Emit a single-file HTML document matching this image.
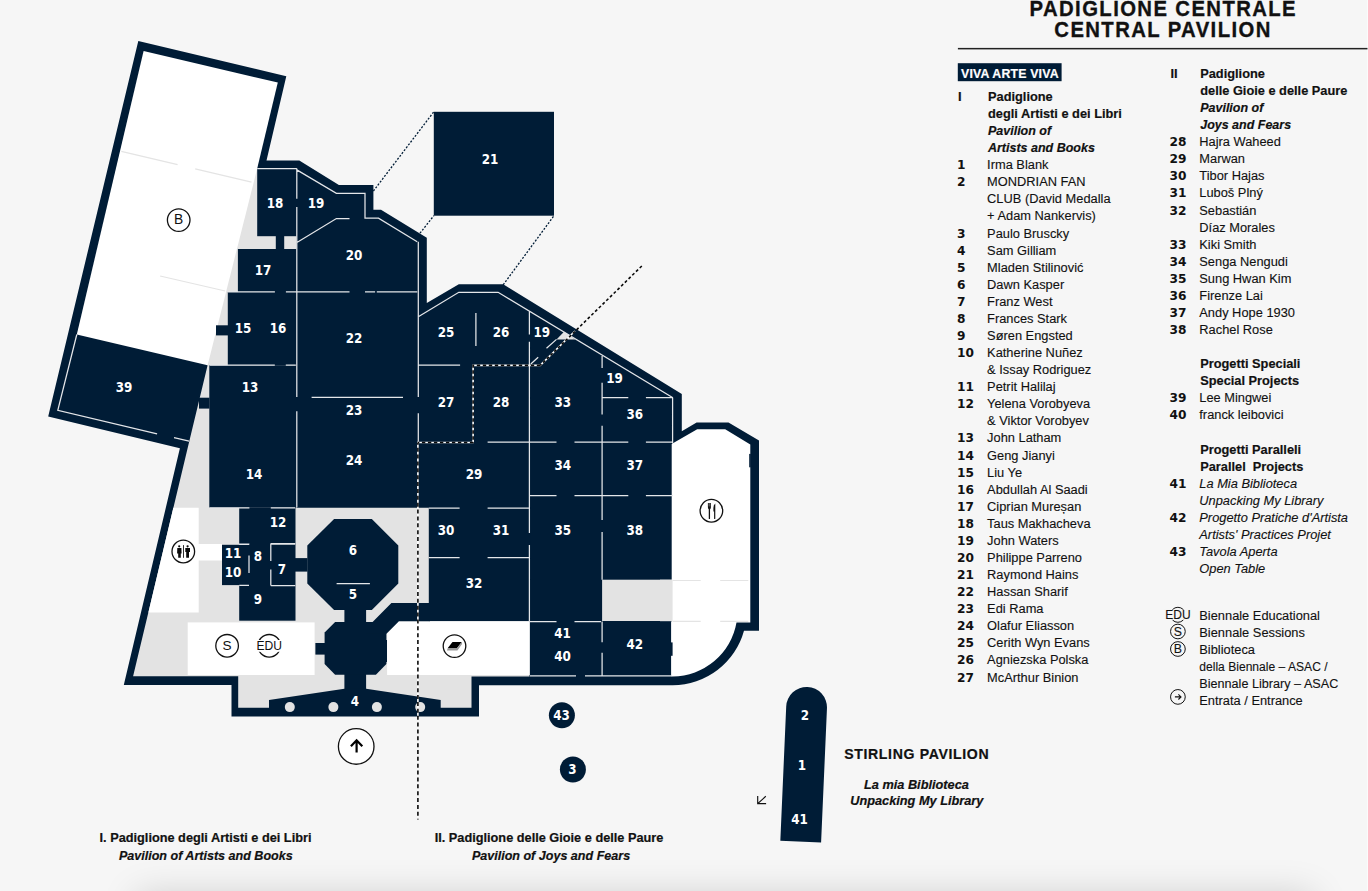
<!DOCTYPE html>
<html lang="it">
<head>
<meta charset="utf-8">
<title>Padiglione Centrale / Central Pavilion</title>
<style>
html,body{margin:0;padding:0;background:#f6f6f6;}
body{width:1368px;height:891px;overflow:hidden;position:relative;font-family:"Liberation Sans",sans-serif;}
.page{position:absolute;left:0;top:0;width:1368px;height:891px;overflow:hidden;background:#f6f6f6;}
svg{position:absolute;left:0;top:0;display:block;}
text{font-family:"Liberation Sans",sans-serif;fill:#111;}
.ml{font-family:"DejaVu Sans","Liberation Sans",sans-serif;font-weight:bold;font-size:13.3px;fill:#fff;}
.n{font-family:"DejaVu Sans","Liberation Sans",sans-serif;font-weight:bold;font-size:12.2px;}
.t{font-size:12.85px;stroke:#111;stroke-width:0.12px;}
.h{font-size:12.8px;font-weight:bold;stroke:#111;stroke-width:0.18px;}
.it{font-style:italic;}
.h.it{font-size:12.5px;}
.ic{font-size:13.5px;}
.cap{font-size:12.75px;font-weight:bold;stroke:#111;stroke-width:0.2px;}
.stir{font-size:14.1px;font-weight:bold;letter-spacing:0.64px;stroke:#111;stroke-width:0.2px;}
.title{font-size:20.3px;font-weight:bold;letter-spacing:1.4px;stroke:#111;stroke-width:0.3px;}
.viva{font-size:12.3px;font-weight:bold;fill:#fff;letter-spacing:0.2px;stroke:#fff;stroke-width:0.2px;}
.fade{position:absolute;left:145px;top:903px;width:1160px;height:30px;box-shadow:0 0 36px 8px rgba(0,0,0,0.17);}
.edge{position:absolute;left:1367px;top:0;width:1px;height:891px;background:rgba(255,255,255,0.5);}
</style>
</head>
<body>
<div class="page">
<svg width="1368" height="891" viewBox="0 0 1368 891">
<rect width="1368" height="891" fill="#f6f6f6"/>
<path d="M266.5 160.4 L299.3 160.4 L338.9 185 L373.4 185 L373.4 209.8 L381 209.8 L426.8 237.7 L426.8 303 L458.8 284.3 L503.2 284.3 L681.8 394 L681.8 431.3 L696.6 422.5 L728.5 422.5 L759 440.6 L759 630.8 L744 630.8 A74 74 0 0 1 672.7 685.2 L479 685.2 L479 716.4 L231.5 716.4 L231.5 685.1 L123.8 685.1 L179.9 448.3 L48.2 416.5 L138.3 41 L286.3 76.3 Z" fill="#001c36"/>
<polygon points="255.8,168.5 296.5,168.5 296.5,507.8 428.8,507.8 428.8,621.3 529.4,621.3 529.4,676.4 471.5,676.4 471.5,707.7 238.2,707.7 238.2,676.3 133.1,676.3 189.1,442.1 207.6,365.3 206.2,365" fill="#e3e3e3"/>
<rect x="602.1" y="579.7" width="70.6" height="41.3" fill="#e3e3e3"/>
<polygon points="564,331.8 575.3,339.4 556.5,339.4" fill="#e3e3e3"/>
<polygon points="143.6,51 277.8,82.6 257.2,168.5 207.6,365.3 76.8,334.5" fill="#fff"/>
<polygon points="173.3,507.8 198.7,507.8 198.7,544.1 222,544.1 222,560.6 198.7,560.6 198.7,612.4 148.4,612.4" fill="#fff"/>
<rect x="187.7" y="622.4" width="126.9" height="52.6" fill="#fff"/>
<polygon points="398.9,621.3 529.8,621.3 529.8,675.1 387.1,675.1 387.1,633.8" fill="#fff"/>
<path d="M672.9 443.3 L697.2 429.3 L725.2 429.3 L750.3 444.6 L750.3 622.6 L736.5 622.6 A65 65 0 0 1 672.7 676.4 H671.1 V621.4 H671.7 V444 Z" fill="#fff"/>
<rect x="660" y="579.7" width="12.6" height="41.5" fill="#e3e3e3"/>
<rect x="257.2" y="168.5" width="40.8" height="67.7" fill="#001c36"/>
<rect x="275.8" y="236" width="8.4" height="13.2" fill="#001c36"/>
<rect x="237.9" y="249" width="60.1" height="43.2" fill="#001c36"/>
<rect x="227.8" y="292" width="70.2" height="73.5" fill="#001c36"/>
<rect x="216" y="325.3" width="12" height="10.1" fill="#001c36"/>
<rect x="209.3" y="365.3" width="88.7" height="142.5" fill="#001c36"/>
<rect x="199" y="397.7" width="10.5" height="10.9" fill="#001c36"/>
<rect x="239.2" y="507.8" width="56.3" height="112.9" fill="#001c36"/>
<rect x="222" y="544.8" width="19" height="40.3" fill="#001c36"/>
<rect x="294" y="558.1" width="13.5" height="13.5" fill="#001c36"/>
<polygon points="334.1,519.1 371.8,519.1 398.3,545.6 398.3,583.6 371.8,609.9 334.1,609.9 307.3,583.6 307.3,545.6" fill="#001c36"/>
<rect x="344.4" y="609.5" width="21.7" height="79.7" fill="#001c36"/>
<polygon points="335.1,622 375.9,622 386.4,632.5 386.4,664 375.9,674.8 335.1,674.8 324.6,664 324.6,632.5" fill="#001c36"/>
<rect x="315.4" y="643" width="9.6" height="11.6" fill="#001c36"/>
<rect x="386" y="640" width="1" height="22" fill="#001c36"/>
<polygon points="391.4,603 430,603 430,621.3 398.9,621.3 386.4,633.8 366,633.8 366,622 372.6,622" fill="#001c36"/>
<polygon points="269,700.1 344.4,688.8 366.1,688.8 440.7,700.1 440.7,708 269,708" fill="#001c36"/>
<circle cx="289.8" cy="707.1" r="5" fill="#e3e3e3"/>
<circle cx="333.4" cy="707.1" r="5" fill="#e3e3e3"/>
<circle cx="376.9" cy="707.1" r="5" fill="#e3e3e3"/>
<circle cx="420.2" cy="707.1" r="5" fill="#e3e3e3"/>
<rect x="433.8" y="111.8" width="120.2" height="103.9" fill="#001c36"/>
<rect x="749.2" y="453.9" width="1.6" height="13.4" fill="#001c36"/>
<rect x="576.3" y="675" width="8.7" height="3" fill="#001c36"/>
<rect x="670.5" y="642.4" width="2.1" height="13.4" fill="#001c36"/>
<path d="M296.8 168.5V198.8M296.8 206.9V396.9M296.8 411.2V507.8M418.3 241.8V397M418.3 413.2V442.5M529.4 311.8V334.4M529.4 341.8V533.1M529.4 545.1V621M475.9 313.1V346.1M602.1 356.1V368.1M602.1 382.7V414.5M602.1 425.7V520.1M602.1 532.1V579.7M602.1 621.5V642.3M602.1 652.8V675.5M672.6 397.7V443.4M257.2 168.5H296.8M227.8 291.9H274.9M285.9 291.9H349.5M365 291.9H375.1M376.8 291.9H417.2M209.7 365.2H274.8M285.8 365.2H295.8M418.3 365.2H460.1M311.6 397.4H403M487.6 442.2H556.5M574.5 442.2H628.3M645.9 442.2H672.9M529.4 495.6H556.5M574.5 495.6H628.3M645.9 495.6H672.9M428.8 508.1H459.6M487.6 508.1H529.4M428.8 557.6H459.6M487.6 557.6H529.4M602.1 397.7H628.3M645.9 397.7H672.9M529.4 621.5H556.5M574.5 621.5H601M336.6 583.6H369.9M209.3 507.8H249.4M270.8 507.8H295.2M238.8 544H249.4M270.8 544H295.2M529.8 675.8H576M585 675.8H671.4M270.8 543.6H295.3M270.8 585.6H295.3M270.8 543.6V561M270.8 569.5V585.6M249 555.6V573.1M239.2 544.4H249M239.2 585.4H249M296.8 169.9 L336.4 193.4 L365 193.4 L365 218.2 L378.5 218.2 L417.2 241.8M297.3 242.3 L336.4 218.5 L349.5 218.5M418.3 316.8 L458.8 292.3 L498.1 292.3 L672.9 397.7M76.8 334.5 L57.8 410.3 L157.1 433.9M174 437.7 L189.1 441.1M556.5 339.4 L546.5 348.2M538.2 357.3 L530.8 364" fill="none" stroke="#e4e6e9" stroke-width="1.25"/>
<path d="M121.3 151.4L177.6 164.7M195.2 168.9L251.5 182.2M160.1 276L225.2 291M672.7 580.5H700.7M720.2 580.5H748.3M672.7 621.4H700.7M720.2 621.4H748.3" fill="none" stroke="#e4e4e4" stroke-width="1.2"/>
<path d="M575 331L540.2 365.4H473.1V442.5H417.9V716" fill="none" stroke="#fff" stroke-width="1.6"/>
<path d="M641.8 266L540.2 365.4" fill="none" stroke="#0a0a0a" stroke-width="1.6" stroke-dasharray="2.9 2.3"/>
<path d="M540.2 365.4H473.1V442.5H417.9" fill="none" stroke="#0a0a0a" stroke-width="1.6" stroke-dasharray="3.4 2.6"/>
<path d="M417.9 819.4V442.5" fill="none" stroke="#0a0a0a" stroke-width="1.6" stroke-dasharray="4 2.87" stroke-dashoffset="3.3"/>
<path d="M373.4 191L433.8 111.8M420 233.2L433.8 215.7M503.2 284.8L554 215.7" fill="none" stroke="#001c36" stroke-width="1.3" stroke-dasharray="2 1.6"/>
<circle cx="561.9" cy="715.2" r="13" fill="#001c36"/>
<circle cx="572.9" cy="769.5" r="13" fill="#001c36"/>
<path d="M-20.4 77.5 V-57 A20.4 20.4 0 0 1 20.4 -57 V77.5 Z" transform="translate(804.1 764.3) rotate(2.5)" fill="#001c36"/>
<circle cx="178.7" cy="220.1" r="11.3" fill="#fff" stroke="#111" stroke-width="1.3"/>
<text x="178.7" y="224.4" class="ic" text-anchor="middle" style="font-size:13.8px">B</text>
<circle cx="227.1" cy="645.8" r="11.3" fill="#fff" stroke="#111" stroke-width="1.3"/>
<text x="227.1" y="650.2" class="ic" text-anchor="middle" style="font-size:13.6px">S</text>
<circle cx="269.2" cy="645.8" r="11.3" fill="#fff" stroke="#111" stroke-width="1.3"/>
<rect x="256" y="640" width="26.4" height="11.8" fill="#fff"/>
<text x="269.2" y="650" class="ic" text-anchor="middle" style="font-size:12.1px">EDU</text>
<circle cx="183.3" cy="551.5" r="11.3" fill="#fff" stroke="#111" stroke-width="1.3"/>
<g fill="#0a0a0a"><circle cx="179.2" cy="546.3" r="1.1"/><path d="M177.3 548.1H181.4L181.6 553.6H180.8V557.7H178.2V553.6H177.1Z"/><rect x="183" y="545.1" width="0.85" height="12.7"/><circle cx="187.6" cy="546.3" r="1.1"/><path d="M185.3 548.1H190V552.1H189V557.7H186.2V552.1H185.3Z"/></g>
<circle cx="454.5" cy="646.1" r="11.3" fill="#fff" stroke="#111" stroke-width="1.3"/>
<path d="M447.8 648L452.5 641.9H461.8L457.1 648Z" fill="#000"/><path d="M447.8 648H457.1L461.8 641.9L462.1 644L457.4 650.5H446.9Z" fill="#999"/>
<circle cx="711.4" cy="510.75" r="11.3" fill="#fff" stroke="#111" stroke-width="1.3"/>
<g fill="#111"><path d="M707.9 503.1h3v4.2q0 1.5-0.85 1.9v9.3q0 0.6-0.65 0.6q-0.65 0-0.65-0.6v-9.3q-0.85-0.4-0.85-1.9z"/><path d="M715.3 503.4q-1.9 1-1.9 4.6v3.4h0.7v7.1q0 0.6 0.6 0.6q0.6 0 0.6-0.6z"/></g>
<path d="M708.95 503V506.4M709.85 503V506.4" stroke="#fff" stroke-width="0.3" fill="none"/>
<circle cx="356.2" cy="746.45" r="17.8" fill="#fff" stroke="#111" stroke-width="1.3"/>
<path d="M356.6 752.6V740M350.9 746.3L356.6 740.3L362.3 746.3" fill="none" stroke="#000" stroke-width="2.2"/>
<path d="M757.7 796V803.6H766.1M757.7 803.6L765.8 796.3" fill="none" stroke="#111" stroke-width="1.15"/>
<text transform="translate(490 163.8) scale(0.9 1)" class="ml" text-anchor="middle">21</text>
<text transform="translate(275 207.8) scale(0.9 1)" class="ml" text-anchor="middle">18</text>
<text transform="translate(316 207.8) scale(0.9 1)" class="ml" text-anchor="middle">19</text>
<text transform="translate(354 259.8) scale(0.9 1)" class="ml" text-anchor="middle">20</text>
<text transform="translate(263 274.8) scale(0.9 1)" class="ml" text-anchor="middle">17</text>
<text transform="translate(243 332.8) scale(0.9 1)" class="ml" text-anchor="middle">15</text>
<text transform="translate(278 332.8) scale(0.9 1)" class="ml" text-anchor="middle">16</text>
<text transform="translate(354 342.8) scale(0.9 1)" class="ml" text-anchor="middle">22</text>
<text transform="translate(446 336.8) scale(0.9 1)" class="ml" text-anchor="middle">25</text>
<text transform="translate(501 336.8) scale(0.9 1)" class="ml" text-anchor="middle">26</text>
<text transform="translate(541.8 336.8) scale(0.9 1)" class="ml" text-anchor="middle">19</text>
<text transform="translate(250 391.8) scale(0.9 1)" class="ml" text-anchor="middle">13</text>
<text transform="translate(124 391.8) scale(0.9 1)" class="ml" text-anchor="middle">39</text>
<text transform="translate(354 414.8) scale(0.9 1)" class="ml" text-anchor="middle">23</text>
<text transform="translate(446 406.8) scale(0.9 1)" class="ml" text-anchor="middle">27</text>
<text transform="translate(501 406.8) scale(0.9 1)" class="ml" text-anchor="middle">28</text>
<text transform="translate(562.8 406.8) scale(0.9 1)" class="ml" text-anchor="middle">33</text>
<text transform="translate(614.6 382.8) scale(0.9 1)" class="ml" text-anchor="middle">19</text>
<text transform="translate(634.8 418.8) scale(0.9 1)" class="ml" text-anchor="middle">36</text>
<text transform="translate(354 464.8) scale(0.9 1)" class="ml" text-anchor="middle">24</text>
<text transform="translate(254 478.8) scale(0.9 1)" class="ml" text-anchor="middle">14</text>
<text transform="translate(474 478.8) scale(0.9 1)" class="ml" text-anchor="middle">29</text>
<text transform="translate(562.8 469.8) scale(0.9 1)" class="ml" text-anchor="middle">34</text>
<text transform="translate(634.8 469.8) scale(0.9 1)" class="ml" text-anchor="middle">37</text>
<text transform="translate(278 526.8) scale(0.9 1)" class="ml" text-anchor="middle">12</text>
<text transform="translate(446 534.8) scale(0.9 1)" class="ml" text-anchor="middle">30</text>
<text transform="translate(501 534.8) scale(0.9 1)" class="ml" text-anchor="middle">31</text>
<text transform="translate(562.8 534.8) scale(0.9 1)" class="ml" text-anchor="middle">35</text>
<text transform="translate(634.8 534.8) scale(0.9 1)" class="ml" text-anchor="middle">38</text>
<text transform="translate(233 557.8) scale(0.9 1)" class="ml" text-anchor="middle">11</text>
<text transform="translate(258 560.8) scale(0.9 1)" class="ml" text-anchor="middle">8</text>
<text transform="translate(233 576.8) scale(0.9 1)" class="ml" text-anchor="middle">10</text>
<text transform="translate(282 573.8) scale(0.9 1)" class="ml" text-anchor="middle">7</text>
<text transform="translate(353 554.8) scale(0.9 1)" class="ml" text-anchor="middle">6</text>
<text transform="translate(353 598.8) scale(0.9 1)" class="ml" text-anchor="middle">5</text>
<text transform="translate(258 603.8) scale(0.9 1)" class="ml" text-anchor="middle">9</text>
<text transform="translate(474 587.8) scale(0.9 1)" class="ml" text-anchor="middle">32</text>
<text transform="translate(562.5 637.8) scale(0.9 1)" class="ml" text-anchor="middle">41</text>
<text transform="translate(562.5 660.8) scale(0.9 1)" class="ml" text-anchor="middle">40</text>
<text transform="translate(634.8 648.8) scale(0.9 1)" class="ml" text-anchor="middle">42</text>
<text transform="translate(355 705.8) scale(0.9 1)" class="ml" text-anchor="middle">4</text>
<text transform="translate(561.5 720.3) scale(0.9 1)" class="ml" text-anchor="middle">43</text>
<text transform="translate(572.5 774.3) scale(0.9 1)" class="ml" text-anchor="middle">3</text>
<text transform="translate(805 719.8) scale(0.9 1)" class="ml" text-anchor="middle">2</text>
<text transform="translate(802 769.8) scale(0.9 1)" class="ml" text-anchor="middle">1</text>
<text transform="translate(799.6 824.2) scale(0.9 1)" class="ml" text-anchor="middle">41</text>
<text transform="translate(205.5 842) scale(1 1.04)" class="cap" text-anchor="middle">I. Padiglione degli Artisti e dei Libri</text>
<text transform="translate(205.8 860) scale(1 1.04)" class="cap it" text-anchor="middle" style="font-size:12.55px">Pavilion of Artists and Books</text>
<text transform="translate(549 842) scale(1 1.04)" class="cap" text-anchor="middle">II. Padiglione delle Gioie e delle Paure</text>
<text transform="translate(551 860) scale(1 1.04)" class="cap it" text-anchor="middle" style="font-size:12.55px">Pavilion of Joys and Fears</text>
<text x="844.2" y="759.4" class="stir">STIRLING PAVILION</text>
<text transform="translate(916.4 789.1) scale(1 1.04)" class="cap it" text-anchor="middle">La mia Biblioteca</text>
<text transform="translate(916.8 804.8) scale(1 1.04)" class="cap it" text-anchor="middle">Unpacking My Library</text>
<text transform="translate(1163.3 16.1) scale(1 1.05)" class="title" text-anchor="middle">PADIGLIONE CENTRALE</text>
<text transform="translate(1163 36.8) scale(1 1.05)" class="title" text-anchor="middle">CENTRAL PAVILION</text>
<rect x="957.9" y="47.9" width="411" height="1.5" fill="#222"/>
<rect x="957.8" y="63.2" width="103.8" height="18" fill="#001c36"/>
<text transform="translate(961.1 77.9) scale(1 1.06)" class="viva">VIVA ARTE VIVA</text>
<text x="957.9" y="101.1" class="h">I</text>
<text transform="translate(988 101.1) scale(1 1.03)" class="h">Padiglione</text>
<text transform="translate(988 118.1) scale(1 1.03)" class="h">degli Artisti e dei Libri</text>
<text transform="translate(988 135) scale(1 1.03)" class="h it">Pavilion of</text>
<text transform="translate(988 152) scale(1 1.03)" class="h it">Artists and Books</text>
<text x="957" y="169.3" class="n">1</text>
<text transform="translate(987.1 169.3) scale(1 1.035)" class="t">Irma Blank</text>
<text x="957" y="186.2" class="n">2</text>
<text transform="translate(987.1 186.2) scale(1 1.035)" class="t">MONDRIAN FAN</text>
<text transform="translate(987.1 203.2) scale(1 1.035)" class="t">CLUB (David Medalla</text>
<text transform="translate(987.1 220.2) scale(1 1.035)" class="t">+ Adam Nankervis)</text>
<text x="957" y="238.1" class="n">3</text>
<text transform="translate(987.1 238.1) scale(1 1.035)" class="t">Paulo Bruscky</text>
<text x="957" y="255.1" class="n">4</text>
<text transform="translate(987.1 255.1) scale(1 1.035)" class="t">Sam Gilliam</text>
<text x="957" y="272" class="n">5</text>
<text transform="translate(987.1 272) scale(1 1.035)" class="t">Mladen Stilinović</text>
<text x="957" y="289.4" class="n">6</text>
<text transform="translate(987.1 289.4) scale(1 1.035)" class="t">Dawn Kasper</text>
<text x="957" y="306.3" class="n">7</text>
<text transform="translate(987.1 306.3) scale(1 1.035)" class="t">Franz West</text>
<text x="957" y="323.3" class="n">8</text>
<text transform="translate(987.1 323.3) scale(1 1.035)" class="t">Frances Stark</text>
<text x="957" y="340.3" class="n">9</text>
<text transform="translate(987.1 340.3) scale(1 1.035)" class="t">Søren Engsted</text>
<text x="957" y="357.3" class="n">10</text>
<text transform="translate(987.1 357.3) scale(1 1.035)" class="t">Katherine Nuñez</text>
<text transform="translate(987.1 374.2) scale(1 1.035)" class="t">&amp; Issay Rodriguez</text>
<text x="957" y="391.2" class="n">11</text>
<text transform="translate(987.1 391.2) scale(1 1.035)" class="t">Petrit Halilaj</text>
<text x="957" y="408.2" class="n">12</text>
<text transform="translate(987.1 408.2) scale(1 1.035)" class="t">Yelena Vorobyeva</text>
<text transform="translate(987.1 425.1) scale(1 1.035)" class="t">&amp; Viktor Vorobyev</text>
<text x="957" y="442.1" class="n">13</text>
<text transform="translate(987.1 442.1) scale(1 1.035)" class="t">John Latham</text>
<text x="957" y="460" class="n">14</text>
<text transform="translate(987.1 460) scale(1 1.035)" class="t">Geng Jianyi</text>
<text x="957" y="477" class="n">15</text>
<text transform="translate(987.1 477) scale(1 1.035)" class="t">Liu Ye</text>
<text x="957" y="494" class="n">16</text>
<text transform="translate(987.1 494) scale(1 1.035)" class="t">Abdullah Al Saadi</text>
<text x="957" y="510.9" class="n">17</text>
<text transform="translate(987.1 510.9) scale(1 1.035)" class="t">Ciprian Mureșan</text>
<text x="957" y="527.9" class="n">18</text>
<text transform="translate(987.1 527.9) scale(1 1.035)" class="t">Taus Makhacheva</text>
<text x="957" y="544.9" class="n">19</text>
<text transform="translate(987.1 544.9) scale(1 1.035)" class="t">John Waters</text>
<text x="957" y="562" class="n">20</text>
<text transform="translate(987.1 562) scale(1 1.035)" class="t">Philippe Parreno</text>
<text x="957" y="579" class="n">21</text>
<text transform="translate(987.1 579) scale(1 1.035)" class="t">Raymond Hains</text>
<text x="957" y="596" class="n">22</text>
<text transform="translate(987.1 596) scale(1 1.035)" class="t">Hassan Sharif</text>
<text x="957" y="612.9" class="n">23</text>
<text transform="translate(987.1 612.9) scale(1 1.035)" class="t">Edi Rama</text>
<text x="957" y="629.9" class="n">24</text>
<text transform="translate(987.1 629.9) scale(1 1.035)" class="t">Olafur Eliasson</text>
<text x="957" y="646.9" class="n">25</text>
<text transform="translate(987.1 646.9) scale(1 1.035)" class="t">Cerith Wyn Evans</text>
<text x="957" y="664.4" class="n">26</text>
<text transform="translate(987.1 664.4) scale(1 1.035)" class="t">Agniezska Polska</text>
<text x="957" y="682.3" class="n">27</text>
<text transform="translate(987.1 682.3) scale(1 1.035)" class="t">McArthur Binion</text>
<text x="1170.4" y="77.5" class="h">II</text>
<text transform="translate(1200.2 77.5) scale(1 1.03)" class="h">Padiglione</text>
<text transform="translate(1200.2 95.4) scale(1 1.03)" class="h">delle Gioie e delle Paure</text>
<text transform="translate(1200.2 112.4) scale(1 1.03)" class="h it">Pavilion of</text>
<text transform="translate(1200.2 129.4) scale(1 1.03)" class="h it">Joys and Fears</text>
<text x="1169.5" y="146.3" class="n">28</text>
<text transform="translate(1199.3 146.3) scale(1 1.035)" class="t">Hajra Waheed</text>
<text x="1169.5" y="163.3" class="n">29</text>
<text transform="translate(1199.3 163.3) scale(1 1.035)" class="t">Marwan</text>
<text x="1169.5" y="180.3" class="n">30</text>
<text transform="translate(1199.3 180.3) scale(1 1.035)" class="t">Tibor Hajas</text>
<text x="1169.5" y="197.2" class="n">31</text>
<text transform="translate(1199.3 197.2) scale(1 1.035)" class="t">Luboš Plný</text>
<text x="1169.5" y="215.2" class="n">32</text>
<text transform="translate(1199.3 215.2) scale(1 1.035)" class="t">Sebastián</text>
<text transform="translate(1199.3 232.1) scale(1 1.035)" class="t">Díaz Morales</text>
<text x="1169.5" y="249.1" class="n">33</text>
<text transform="translate(1199.3 249.1) scale(1 1.035)" class="t">Kiki Smith</text>
<text x="1169.5" y="266.1" class="n">34</text>
<text transform="translate(1199.3 266.1) scale(1 1.035)" class="t">Senga Nengudi</text>
<text x="1169.5" y="283.1" class="n">35</text>
<text transform="translate(1199.3 283.1) scale(1 1.035)" class="t">Sung Hwan Kim</text>
<text x="1169.5" y="300.1" class="n">36</text>
<text transform="translate(1199.3 300.1) scale(1 1.035)" class="t">Firenze Lai</text>
<text x="1169.5" y="317" class="n">37</text>
<text transform="translate(1199.3 317) scale(1 1.035)" class="t">Andy Hope 1930</text>
<text x="1169.5" y="334" class="n">38</text>
<text transform="translate(1199.3 334) scale(1 1.035)" class="t">Rachel Rose</text>
<text transform="translate(1200.2 368.3) scale(1 1.03)" class="h">Progetti Speciali</text>
<text transform="translate(1200.2 385.2) scale(1 1.03)" class="h">Special Projects</text>
<text x="1169.5" y="402.2" class="n">39</text>
<text transform="translate(1199.3 402.2) scale(1 1.035)" class="t">Lee Mingwei</text>
<text x="1169.5" y="419.2" class="n">40</text>
<text transform="translate(1199.3 419.2) scale(1 1.035)" class="t">franck leibovici</text>
<text transform="translate(1200.2 454.4) scale(1 1.03)" class="h">Progetti Paralleli</text>
<text transform="translate(1200.2 471.3) scale(1 1.03)" class="h">Parallel&#160; Projects</text>
<text x="1169.5" y="488.3" class="n">41</text>
<text transform="translate(1199.3 488.3) scale(1 1.035)" class="t it">La Mia Biblioteca</text>
<text transform="translate(1199.3 505.3) scale(1 1.035)" class="t it">Unpacking My Library</text>
<text x="1169.5" y="522.2" class="n">42</text>
<text transform="translate(1199.3 522.2) scale(1 1.035)" class="t it">Progetto Pratiche d'Artista</text>
<text transform="translate(1199.3 539.2) scale(1 1.035)" class="t it">Artists' Practices Projet</text>
<text x="1169.5" y="556.3" class="n">43</text>
<text transform="translate(1199.3 556.3) scale(1 1.035)" class="t it">Tavola Aperta</text>
<text transform="translate(1199.3 573.2) scale(1 1.035)" class="t it">Open Table</text>
<text transform="translate(1199.3 620) scale(1 1.035)" class="t">Biennale Educational</text>
<text transform="translate(1199.3 637) scale(1 1.035)" class="t">Biennale Sessions</text>
<text transform="translate(1199.3 654.3) scale(1 1.035)" class="t">Biblioteca</text>
<text transform="translate(1199.3 671.3) scale(1 1.035)" class="t" textLength="128.3" lengthAdjust="spacingAndGlyphs">della Biennale – ASAC /</text>
<text transform="translate(1199.3 688.2) scale(1 1.035)" class="t" textLength="139" lengthAdjust="spacingAndGlyphs">Biennale Library – ASAC</text>
<text transform="translate(1199.3 705.2) scale(1 1.035)" class="t">Entrata / Entrance</text>
<circle cx="1177.9" cy="614.8" r="7.5" fill="none" stroke="#111" stroke-width="1"/>
<rect x="1164.5" y="609.8" width="27" height="10" fill="#f6f6f6"/>
<text x="1177.9" y="619.1" class="t" text-anchor="middle" style="font-size:12px">EDU</text>
<circle cx="1177.9" cy="631.5" r="7.35" fill="none" stroke="#111" stroke-width="1"/>
<text x="1177.9" y="635.9" class="t" text-anchor="middle" style="font-size:12.3px">S</text>
<circle cx="1177.9" cy="649" r="7.35" fill="none" stroke="#111" stroke-width="1"/>
<text x="1177.9" y="653.4" class="t" text-anchor="middle" style="font-size:12.3px">B</text>
<circle cx="1177.9" cy="696.9" r="7.35" fill="none" stroke="#111" stroke-width="1"/>
<path d="M1174.9 696.9H1180.6M1178.4 694.3L1181 696.9L1178.4 699.5" fill="none" stroke="#111" stroke-width="1.1"/>
</svg>
<div class="fade"></div>
<div class="edge"></div>
</div>
</body>
</html>
